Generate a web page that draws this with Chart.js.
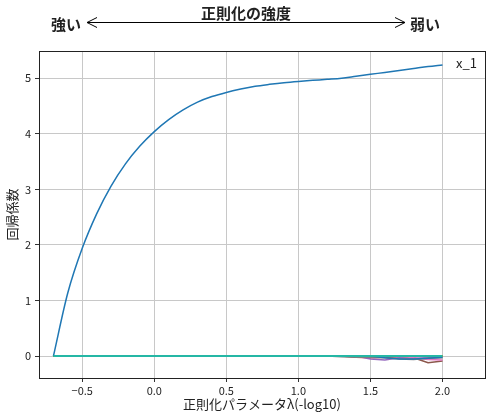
<!DOCTYPE html>
<html>
<head>
<meta charset="utf-8">
<script src="https://cdn.jsdelivr.net/npm/chart.js@4"></script>
<style>
  html, body { margin: 0; padding: 0; background: #fff; }
  #wrap { width: 492px; height: 416px; }
</style>
</head>
<body>
<div id="wrap"><canvas id="coef_chart" width="492" height="416"></canvas></div>
<script>
// regularization parameter lambda (-log10 alpha)
var lambdas = [-0.7, -0.6, -0.5, -0.4, -0.3, -0.2, -0.1, 0.0, 0.1, 0.2, 0.3, 0.4, 0.5, 0.6,
               0.7, 0.8, 0.9, 1.0, 1.1, 1.2, 1.3, 1.4, 1.5, 1.6, 1.7, 1.8, 1.9, 2.0];

// coefficients
var coef_x1  = [0, 1.14, 1.94, 2.56, 3.06, 3.46, 3.78, 4.04, 4.255, 4.43, 4.57, 4.67, 4.745, 4.805,
                4.855, 4.89, 4.92, 4.943, 4.962, 4.98, 5.0, 5.035, 5.07, 5.105, 5.14, 5.175, 5.21, 5.24];
var coef_x2  = [0, 0, 0, 0, 0, 0, 0, 0, 0, 0, 0, 0, 0, 0, 0, 0, 0, 0, 0, 0, 0, 0, 0, 0, 0, 0, 0, 0];
var coef_x3  = [0, 0, 0, 0, 0, 0, 0, 0, 0, 0, 0, 0, 0, 0, 0, 0, 0, 0, 0, 0, 0, 0, 0, 0, 0, 0, 0, 0];
var coef_x4  = [0, 0, 0, 0, 0, 0, 0, 0, 0, 0, 0, 0, 0, 0, 0, 0, 0, 0, 0, 0, 0, -0.02, -0.03, -0.02, -0.01, 0, 0, 0];
var coef_x5  = [0, 0, 0, 0, 0, 0, 0, 0, 0, 0, 0, 0, 0, 0, 0, 0, 0, 0, 0, 0, 0, 0, -0.05, -0.07, -0.03, -0.04, -0.03, -0.02];
var coef_x6  = [0, 0, 0, 0, 0, 0, 0, 0, 0, 0, 0, 0, 0, 0, 0, 0, 0, 0, 0, 0, 0, 0, 0, 0, 0, -0.03, -0.12, -0.09];
var coef_x7  = [0, 0, 0, 0, 0, 0, 0, 0, 0, 0, 0, 0, 0, 0, 0, 0, 0, 0, 0, 0, 0, 0, 0, 0, 0, -0.03, -0.06, -0.07];
var coef_x8  = [0, 0, 0, 0, 0, 0, 0, 0, 0, 0, 0, 0, 0, 0, 0, 0, 0, 0, 0, 0, -0.01, -0.02, -0.02, -0.03, -0.05, -0.06, -0.04, -0.03];
var coef_x9  = [0, 0, 0, 0, 0, 0, 0, 0, 0, 0, 0, 0, 0, 0, 0, 0, 0, 0, 0, 0, 0, 0, 0, 0, 0, 0, 0, 0];
var coef_x10 = [0, 0, 0, 0, 0, 0, 0, 0, 0, 0, 0, 0, 0, 0, 0, 0, 0, 0, 0, 0, 0, 0, 0, 0, 0, 0, 0, 0];
var coef_x11 = [0, 0, 0, 0, 0, 0, 0, 0, 0, 0, 0, 0, 0, 0, 0, 0, 0, 0, 0, 0, 0, 0, 0, -0.03, -0.05, -0.05, -0.04, -0.02];

var xTicks = [-0.5, 0.0, 0.5, 1.0, 1.5, 2.0];
var yTicks = [0, 1, 2, 3, 4, 5];

var seriesList = [coef_x1, coef_x2, coef_x3, coef_x4, coef_x5, coef_x6, coef_x7, coef_x8, coef_x9, coef_x10, coef_x11];
var colors = ["#1f77b4", "#ff7f0e", "#2ca02c", "#d62728", "#9467bd", "#8c564b", "#e377c2", "#7f7f7f", "#bcbd22", "#17becf", "#1f77b4"];

var FONT = "'Noto Sans CJK JP', 'Noto Sans', sans-serif";

function toPoints(values) {
  var pts = [];
  for (var i = 0; i < lambdas.length; i++) pts.push({ x: lambdas[i], y: values[i] });
  return pts;
}

// Chart.js paints the first dataset on top, so list the teal zero line first
var datasets = [];
var order = [9, 2, 0, 8, 1, 10, 7, 6, 5, 4, 3];
for (var k = 0; k < order.length; k++) {
  var i = order[k];
  datasets.push({
    label: "x_" + (i + 1),
    data: toPoints(seriesList[i]),
    borderColor: colors[i],
    borderWidth: 1.5,
    pointRadius: 0,
    fill: false,
    cubicInterpolationMode: i == 0 ? "monotone" : "default",
    tension: 0
  });
}

var decorations = {
  id: "decorations",
  afterDraw: function (chart) {
    var ctx = chart.ctx;
    var a = chart.chartArea;
    ctx.save();
    // frame on all four sides
    ctx.strokeStyle = "#222";
    ctx.lineWidth = 1;
    ctx.strokeRect(Math.round(a.left) + 0.5, Math.round(a.top) + 0.5, Math.round(a.right - a.left), Math.round(a.bottom - a.top));

    // legend text
    ctx.fillStyle = "#222";
    ctx.font = "13px " + FONT;
    ctx.textAlign = "left";
    ctx.textBaseline = "middle";
    ctx.fillText("x_1", 456, 63);

    // regularization strength annotation
    ctx.font = "bold 15px " + FONT;
    ctx.textAlign = "center";
    ctx.fillText("正則化の強度", 246, 13);
    ctx.textAlign = "right";
    ctx.fillText("強い", 81, 24);
    ctx.textAlign = "left";
    ctx.fillText("弱い", 410, 24);

    var y = 22.5, x0 = 87, x1 = 405;
    ctx.strokeStyle = "#000";
    ctx.lineWidth = 1;
    ctx.beginPath();
    ctx.moveTo(x0, y); ctx.lineTo(x1, y);
    ctx.moveTo(x0 + 10, y - 5); ctx.lineTo(x0, y); ctx.lineTo(x0 + 10, y + 5);
    ctx.moveTo(x1 - 10, y - 5); ctx.lineTo(x1, y); ctx.lineTo(x1 - 10, y + 5);
    ctx.stroke();
    ctx.restore();
  }
};

new Chart(document.getElementById("coef_chart").getContext("2d"), {
  type: "line",
  data: { datasets: datasets },
  options: {
    responsive: false,
    animation: false,
    layout: { padding: { top: 51, right: 7, left: 0, bottom: 0 } },
    plugins: {
      legend: { display: false },
      tooltip: { enabled: false }
    },
    scales: {
      x: {
        type: "linear",
        min: -0.80,
        max: 2.295,
        afterBuildTicks: function (axis) {
          axis.ticks = xTicks.map(function (v) { return { value: v }; });
        },
        afterFit: function (axis) { axis.height = 38; },
        grid: { color: "#c8c8c8", lineWidth: 1, tickColor: "#333", tickLength: 4 },
        border: { display: false },
        ticks: {
          color: "#222",
          font: { family: FONT, size: 11 },
          padding: 2,
          maxRotation: 0,
          callback: function (v) { return (v < 0 ? "\u2212" : "") + Math.abs(v).toFixed(1); }
        },
        title: {
          display: true,
          text: "正則化パラメータλ(-log10)",
          color: "#222",
          font: { family: FONT, size: 13 },
          padding: { top: 2, bottom: 4 }
        }
      },
      y: {
        type: "linear",
        min: -0.394,
        max: 5.49,
        afterBuildTicks: function (axis) {
          axis.ticks = yTicks.map(function (v) { return { value: v }; });
        },
        afterFit: function (axis) { axis.width = 39; },
        grid: { color: "#c8c8c8", lineWidth: 1, tickColor: "#333", tickLength: 4 },
        border: { display: false },
        ticks: {
          color: "#222",
          font: { family: FONT, size: 11 },
          padding: 4,
          callback: function (v) { return String(v); }
        },
        title: {
          display: true,
          text: "回帰係数",
          color: "#222",
          font: { family: FONT, size: 13 },
          padding: { top: 4, bottom: 2 }
        }
      }
    }
  },
  plugins: [decorations]
});
</script>
</body>
</html>
